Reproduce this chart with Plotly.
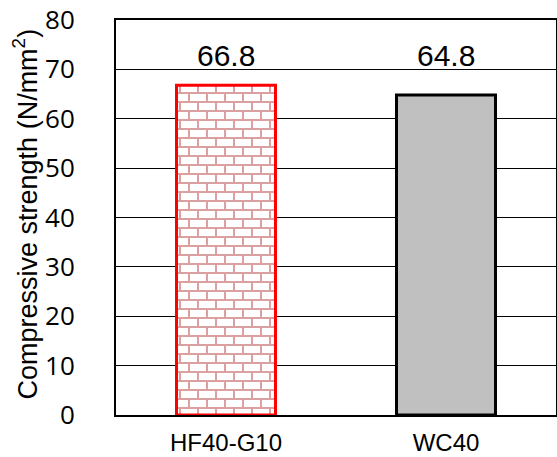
import plotly.graph_objects as go

categories = ["HF40-G10", "WC40"]
values = [66.8, 64.8]
value_labels = ["66.8", "64.8"]
fill_colors = ["white", "#c0c0c0"]
line_colors = ["#ff0000", "#000000"]
y_ticks = [0, 10, 20, 30, 40, 50, 60, 70, 80]

fig = go.Figure()
fig.add_trace(go.Bar(
    x=categories, y=values, width=0.45,
    marker=dict(
        color=fill_colors,
        line=dict(color=line_colors, width=3),
        pattern=dict(shape=["+", ""], fgcolor="#dca0a0", bgcolor="white",
                     size=9, solidity=0.25, fillmode="overlay"),
    ),
    showlegend=False,
))

label_y = max(values)
for c, t in zip(categories, value_labels):
    fig.add_annotation(x=c, y=label_y, text=t, showarrow=False, yanchor="bottom",
                       yshift=11, font=dict(family="Liberation Sans", size=30, color="black"))

fig.add_annotation(xref="paper", yref="paper", x=-0.207, y=0.51, textangle=-90,
                   text="Compressive strength (N/mm<sup>2</sup>)", showarrow=False,
                   xanchor="center", yanchor="middle",
                   font=dict(family="Liberation Sans", size=27, color="black"))

fig.update_layout(
    width=557, height=457,
    margin=dict(l=116, r=1, t=20, b=42, autoexpand=False),
    plot_bgcolor="white", paper_bgcolor="white",
    bargap=0.55,
)
fig.update_xaxes(showline=True, linecolor="black", linewidth=2, mirror=True,
                 ticks="", showgrid=False, ticklabelstandoff=5, automargin=False,
                 tickfont=dict(family="Liberation Sans", size=24, color="black"))
fig.update_yaxes(range=[0, 80], tickvals=y_ticks, showline=True, linecolor="black",
                 linewidth=2, mirror=True, ticks="", showgrid=True, gridcolor="black",
                 gridwidth=1.3, zeroline=False, ticklabelstandoff=34, automargin=False,
                 tickfont=dict(family="Open Sans", size=26, color="black"))

post = """
var ps = document.querySelectorAll('pattern');
ps.forEach(function(p){
  var ns='http://www.w3.org/2000/svg';
  p.setAttribute('width','18'); p.setAttribute('height','18');
  while(p.firstChild){p.removeChild(p.firstChild);}
  var r=document.createElementNS(ns,'rect');
  r.setAttribute('width','18'); r.setAttribute('height','18'); r.setAttribute('fill','white');
  p.appendChild(r);
  var path=document.createElementNS(ns,'path');
  path.setAttribute('d','M0,1H18M0,10H18M1,1V10M10,10V19');
  path.setAttribute('stroke','#dca0a0'); path.setAttribute('stroke-width','2'); path.setAttribute('fill','none');
  p.appendChild(path);
});
"""
fig.write_html("out.html", post_script=post)
